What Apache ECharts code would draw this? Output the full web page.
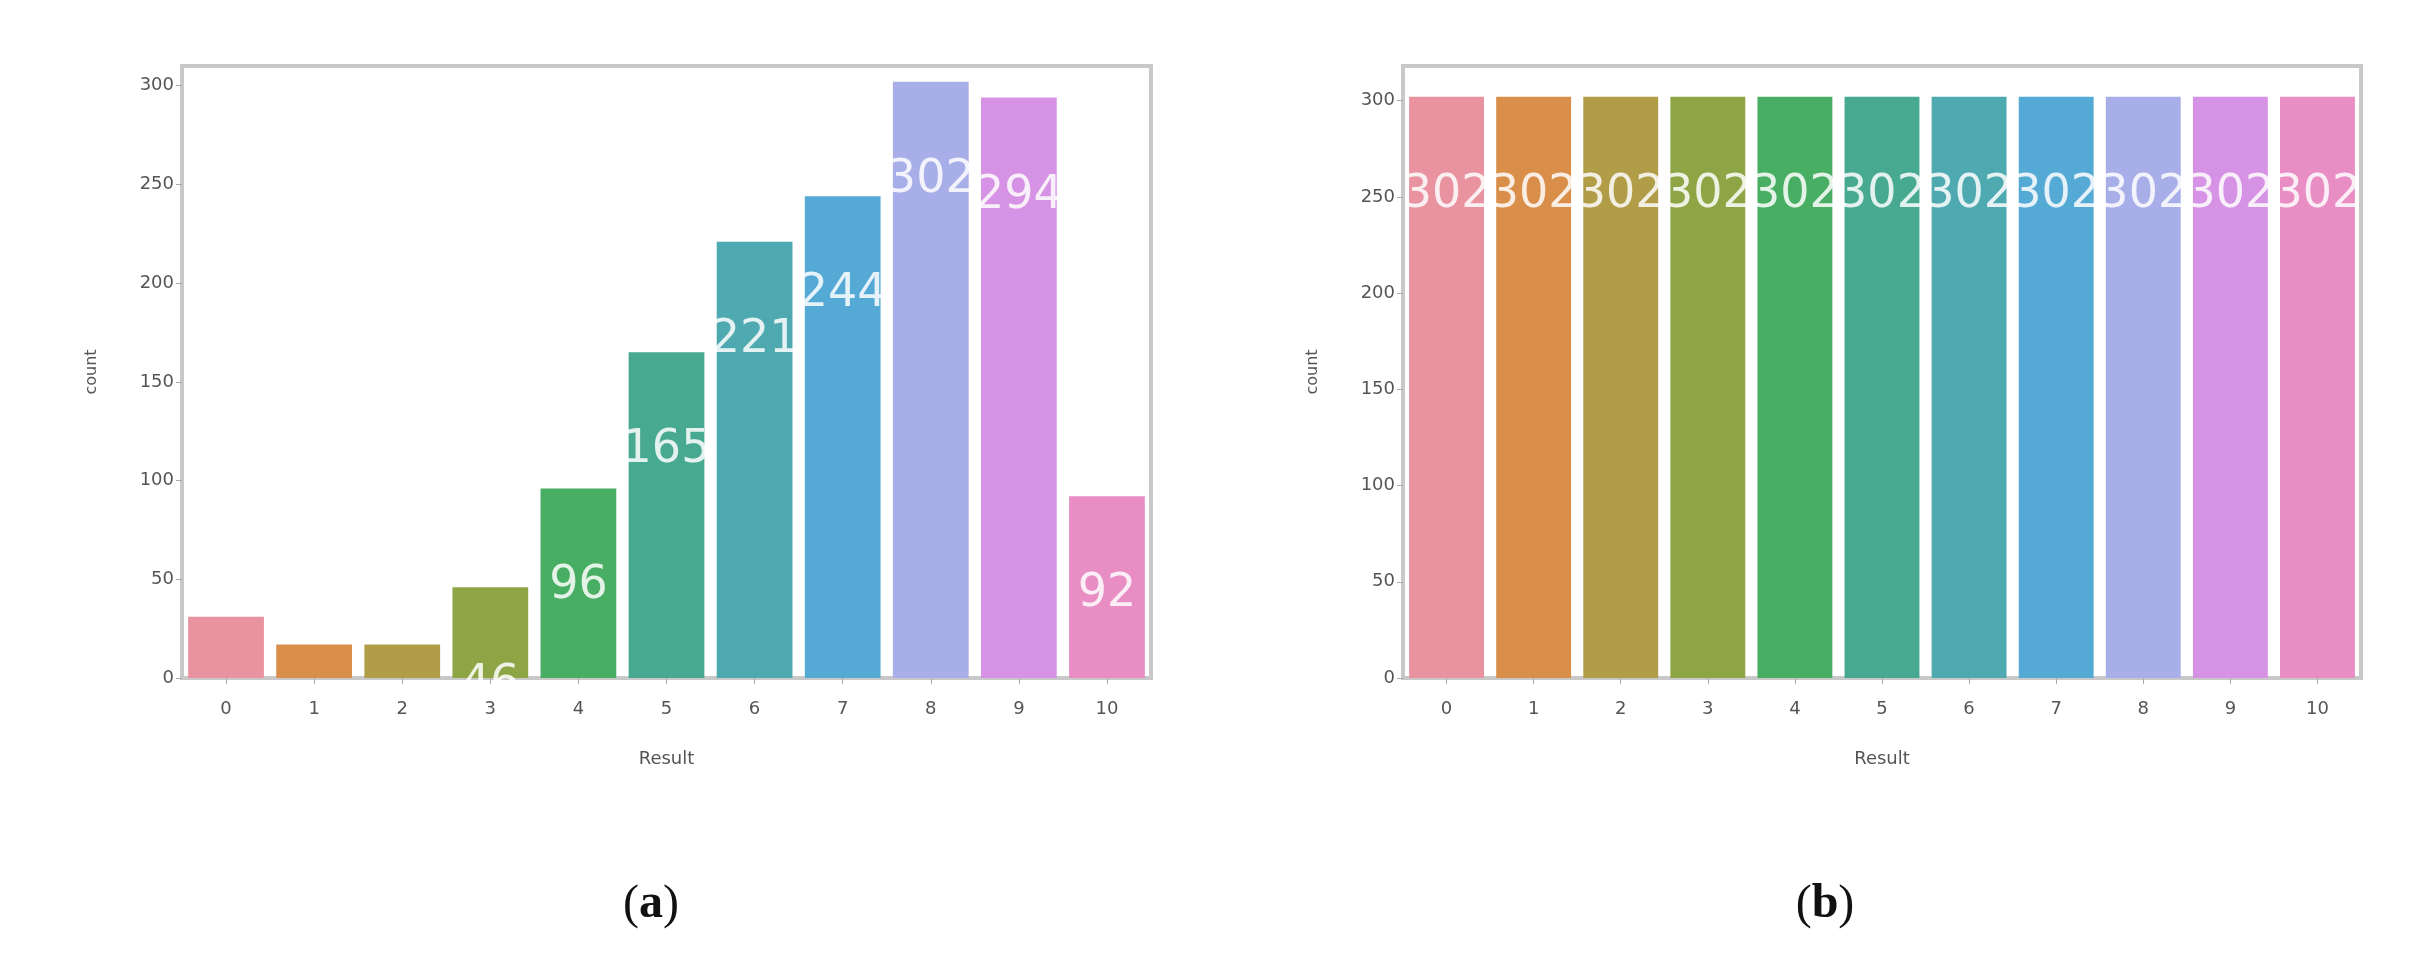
<!DOCTYPE html>
<html>
<head>
<meta charset="utf-8">
<script src="https://cdn.jsdelivr.net/npm/echarts@6/dist/echarts.min.js"></script>
<style>
  html, body { margin: 0; padding: 0; background: #fff; }
  #chart { width: 2412px; height: 966px; }
</style>
</head>
<body>
<div id="chart"></div>
<script>
// categories and values
const results = ['0', '1', '2', '3', '4', '5', '6', '7', '8', '9', '10'];
const countsA = [31, 17, 17, 46, 96, 165, 221, 244, 302, 294, 92];
const countsB = [302, 302, 302, 302, 302, 302, 302, 302, 302, 302, 302];
const barColors = ['#e8939f', '#d98e4a', '#b19d48', '#8ea546', '#48ae63', '#48a991',
  '#4ea9b0', '#55a9d5', '#a8aee8', '#d692e4', '#e88ec4'];

let chart = echarts.init(document.getElementById('chart'), null, { renderer: 'canvas' });

function grid(left, right) {
  return {
    left: left, right: right, top: 66, bottom: 288,
    show: true, borderColor: '#c8c8c8', borderWidth: 4, backgroundColor: '#fff'
  };
}

function xAxis(idx) {
  return {
    type: 'category', gridIndex: idx, data: results,
    name: 'Result', nameLocation: 'middle', nameGap: 72,
    nameTextStyle: { fontSize: 18, color: '#555' },
    axisLine: { lineStyle: { color: '#c8c8c8', width: 4 } },
    axisTick: { show: true, alignWithLabel: true, length: 6, lineStyle: { color: '#aaa' } },
    axisLabel: { fontSize: 18, color: '#555', margin: 22 }
  };
}

function yAxis(idx, max) {
  return {
    type: 'value', gridIndex: idx, min: 0, max: max, interval: 50,
    name: 'count', nameLocation: 'middle', nameGap: 82,
    nameTextStyle: { fontSize: 16, color: '#555' },
    splitLine: { show: false },
    axisLine: { show: true, lineStyle: { color: '#c8c8c8', width: 4 } },
    axisTick: { show: true, length: 6, lineStyle: { color: '#aaa' } },
    axisLabel: { fontSize: 18, color: '#555', showMaxLabel: false }
  };
}

function barSeries(idx, values) {
  return {
    type: 'bar', xAxisIndex: idx, yAxisIndex: idx,
    barCategoryGap: '14%',
    data: values.map((v, i) => ({ value: v, itemStyle: { color: barColors[i] } })),
    label: {
      show: true, position: 'insideTop', offset: [0, 70],
      color: 'rgba(255,255,255,0.85)', fontSize: 46, fontFamily: 'DejaVu Sans'
    }
  };
}

let option = {
  animation: false,
  textStyle: { fontFamily: 'DejaVu Sans' },
  title: [
    { text: '({b|a})', left: 646, top: 876, textAlign: 'center',
      textStyle: { fontFamily: 'Liberation Serif', fontSize: 48, fontWeight: 'normal', color: '#111',
        rich: { b: { fontFamily: 'Liberation Serif', fontSize: 48, fontWeight: 'bold', color: '#111' } } } },
    { text: '({b|b})', left: 1820, top: 876, textAlign: 'center',
      textStyle: { fontFamily: 'Liberation Serif', fontSize: 48, fontWeight: 'normal', color: '#111',
        rich: { b: { fontFamily: 'Liberation Serif', fontSize: 48, fontWeight: 'bold', color: '#111' } } } }
  ],
  grid: [grid(182, 1261), grid(1403, 51)],
  xAxis: [xAxis(0), xAxis(1)],
  yAxis: [yAxis(0, 310), yAxis(1, 318)],
  series: [barSeries(0, countsA), barSeries(1, countsB)]
};

chart.setOption(option);
</script>
</body>
</html>
